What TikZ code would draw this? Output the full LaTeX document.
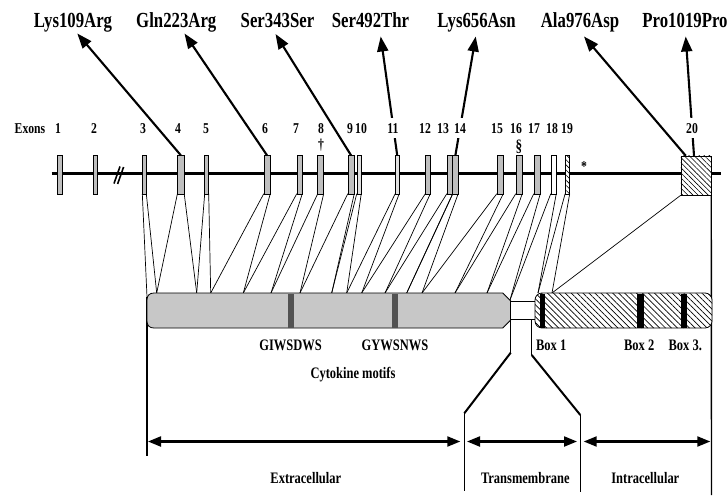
\documentclass[tikz,border=0pt]{standalone}
\usepackage{fontspec}
\newfontfamily\labfam{Liberation Serif}[FakeStretch=0.78]
\usetikzlibrary{arrows.meta,patterns.meta}
\begin{document}
\begin{tikzpicture}[x=1pt,y=-1pt,
  exon/.style={draw=black,line width=0.5pt,fill=black!25,rectangle,inner sep=0pt,minimum height=38pt},
  paleexon/.style={exon,fill=black!12},
  whiteexon/.style={exon,fill=white},
  hatchexon/.style={draw=black,line width=0.5pt,rectangle,inner sep=0pt,minimum height=38pt,
     pattern={Lines[angle=-45,distance=3.6pt,line width=0.6pt]},pattern color=black},
  conn/.style={line width=0.7pt},
  vline/.style={line width=1.4pt},
  tmline/.style={line width=2pt},
  mut/.style={line width=2.1pt,-{Triangle[length=15pt,width=11pt]}},
  dimarrow/.style={line width=2.1pt,{Triangle[length=13pt,width=10pt]}-{Triangle[length=13pt,width=10pt]}},
  toplab/.style={font=\labfam\bfseries\fontsize{21.5}{21.5}\selectfont,anchor=base,inner sep=0pt},
  exlab/.style={font=\labfam\bfseries\fontsize{15}{15}\selectfont,anchor=base,fill=white,inner xsep=2pt,inner ysep=5pt},
  lowlab/.style={font=\labfam\bfseries\fontsize{16}{16}\selectfont,anchor=base,inner sep=0pt},
  symb/.style={font=\labfam\bfseries\fontsize{15}{15}\selectfont,inner sep=0pt}
]
\useasboundingbox (0,0) rectangle (727,500);

% ---------- exons ----------
\node[exon,minimum width=4pt]   (e1)  at (59.7,174.5) {};
\node[exon,minimum width=3.5pt] (e2)  at (95.5,174.5) {};
\node[exon,minimum width=3.5pt] (e3)  at (144.3,174.5) {};
\node[exon,minimum width=6.3pt] (e4)  at (180.8,174.5) {};
\node[exon,minimum width=3.5pt] (e5)  at (206.7,174.5) {};
\node[exon,minimum width=6pt]   (e6)  at (267,174.5) {};
\node[exon,minimum width=5pt]   (e7)  at (299.5,174.5) {};
\node[exon,minimum width=5.5pt] (e8)  at (320.7,174.5) {};
\node[exon,minimum width=6pt]   (e9)  at (351,174.5) {};
\node[paleexon,minimum width=4pt]   (e10) at (359,174.5) {};
\node[paleexon,minimum width=3.5pt] (e11) at (397.2,174.5) {};
\node[exon,minimum width=4.5pt] (e12) at (427.8,174.5) {};
\node[exon,minimum width=5.5pt] (e13) at (449.8,174.5) {};
\node[exon,minimum width=5pt]   (e14) at (455.4,174.5) {};
\node[exon,minimum width=6pt]   (e15) at (500,174.5) {};
\node[exon,minimum width=6pt]   (e16) at (519,174.5) {};
\node[exon,minimum width=6pt]   (e17) at (537,174.5) {};
\node[whiteexon,minimum width=5pt] (e18) at (553.5,174.5) {};
\node[hatchexon,minimum width=4pt] (e19) at (567.4,174.5) {};
\node[hatchexon,minimum width=30pt,minimum height=39pt] (e20) at (696,175.5) {};

% ---------- points on the protein bar ----------
\coordinate (p0)  at (147,297);
\coordinate (p0b) at (147,456);
\coordinate (p1)  at (156.7,293);
\coordinate (p2)  at (196.7,293);
\coordinate (p3)  at (210.7,293);
\coordinate (p4)  at (243.3,293);
\coordinate (p5)  at (271,293);
\coordinate (p6)  at (300,293);
\coordinate (p7)  at (331.7,293);
\coordinate (p8)  at (346.7,293);
\coordinate (p9)  at (361.7,293);
\coordinate (p10) at (385,293);
\coordinate (p11) at (406.7,293);
\coordinate (p12) at (422,293);
\coordinate (p13) at (455,293);
\coordinate (p14) at (487,293);
\coordinate (p15) at (510,300);
\coordinate (p16) at (538,293);
\coordinate (p17) at (552,293);
\coordinate (p18) at (711.5,495);

% ---------- exon-to-protein connectors ----------
\draw[conn] (e3.south west) -- (p0);
\draw[conn] (e3.south east) -- (p1);
\draw[conn] (e4.south west) -- (p1) (e4.south east) -- (p2);
\draw[conn] (e5.south west) -- (p2) (e5.south east) -- (p3);
\draw[conn] (e6.south west) -- (p3) (e6.south east) -- (p4);
\draw[conn] (e7.south west) -- (p4) (e7.south east) -- (p5);
\draw[conn] (e8.south west) -- (p5) (e8.south east) -- (p6);
\draw[conn] (e9.south west) -- (p6) (e9.south east) -- (p7);
\draw[conn] (e10.south west) -- (p7) (e10.south east) -- (p8);
\draw[conn] (e11.south west) -- (p8) (e11.south east) -- (p9);
\draw[conn] (e12.south west) -- (p9) (e12.south east) -- (p10);
\draw[conn] (e13.south west) -- (p10) (e13.south east) -- (p11);
\draw[conn] (e14.south west) -- (p11) (e14.south east) -- (p12);
\draw[conn] (e15.south west) -- (p12) (e15.south east) -- (p13);
\draw[conn] (e16.south west) -- (p13) (e16.south east) -- (p14);
\draw[conn] (e17.south west) -- (p14) (e17.south east) -- (p15);
\draw[conn] (e18.south west) -- (p15) (e18.south east) -- (p16);
\draw[conn] (e19.south west) -- (p16) (e19.south east) -- (p17);
\draw[conn] (e20.south west) -- (p17);
\draw[vline] (e20.south east) -- (p18);
\draw[vline] (p0) -- (p0b);

% ---------- transmembrane guide lines ----------
\coordinate (tl1) at (510.7,320);
\coordinate (tl2) at (510.7,352.7);
\coordinate (tl3) at (464.3,413.3);
\coordinate (tl4) at (464.3,491);
\coordinate (tr1) at (531.7,320);
\coordinate (tr2) at (531.7,355);
\coordinate (tr3) at (580.3,415);
\coordinate (tr4) at (580.3,492);
\draw[vline] (tl1) -- (tl2);
\draw[tmline] (tl2) -- (tl3);
\draw[vline] (tl3) -- (tl4);
\draw[vline] (tr1) -- (tr2);
\draw[tmline] (tr2) -- (tr3);
\draw[vline] (tr3) -- (tr4);

% ---------- protein bar: extracellular part ----------
\draw[line width=0.8pt,fill=black!22]
  (154,293) -- (502.7,293) -- (510.7,301) -- (510.7,320) -- (502.7,328) -- (154,328)
  .. controls (149.5,328) and (147,325.5) .. (147,321) -- (147,300)
  .. controls (147,295.5) and (149.5,293) .. (154,293) -- cycle;
\fill[black!68] (288,293.5) rectangle (294,327.5);
\fill[black!68] (392,293.5) rectangle (398,327.5);
% transmembrane
\draw[line width=0.8pt,fill=white] (510.7,301) rectangle (535,319.5);
% intracellular part
\fill[white,rounded corners=7pt] (535,293) rectangle (712,328);
\fill[pattern={Lines[angle=-45,distance=4.2pt,line width=0.7pt]},pattern color=black,rounded corners=7pt]
  (535,293) rectangle (712,328);
\fill[black] (539.5,293.5) rectangle (545,327.5);
\fill[black] (636.7,293.5) rectangle (644.3,327.5);
\fill[black] (681,293.5) rectangle (686.7,327.5);
\draw[line width=0.8pt,rounded corners=7pt] (535,293) rectangle (712,328);

% ---------- gene line ----------
\coordinate (g1) at (51.7,173.5);
\coordinate (g2) at (720.7,173.5);
\draw[line width=3.2pt] (g1) -- (g2);
\draw[line width=1.6pt] (114,183.5) -- (120,166.5) (117.6,184) -- (123.6,167);

% redraw exons on top of gene line
\foreach \n in {e1,e2,e3,e4,e5,e6,e7,e8,e9,e12,e13,e14,e15,e16,e17}{
  \draw[line width=0.5pt,fill=black!25] (\n.north west) rectangle (\n.south east);}
\foreach \n in {e10,e11}{
  \draw[line width=0.5pt,fill=black!12] (\n.north west) rectangle (\n.south east);}
\draw[line width=0.5pt,fill=white] (e18.north west) rectangle (e18.south east);
\foreach \n in {e19,e20}{
  \fill[white] (\n.north west) rectangle (\n.south east);
  \draw[line width=0.5pt,pattern={Lines[angle=-45,distance=3.6pt,line width=0.6pt]},pattern color=black]
    (\n.north west) rectangle (\n.south east);}

% ---------- mutation labels and arrows ----------
\node[toplab] (m1) at (73,27.5) {Lys109Arg};
\node[toplab] (m2) at (176.3,27.5) {Gln223Arg};
\node[toplab] (m3) at (277.5,27.5) {Ser343Ser};
\node[toplab] (m4) at (370.5,27.5) {Ser492Thr};
\node[toplab] (m5) at (476.5,27.5) {Lys656Asn};
\node[toplab] (m6) at (580,27.5) {Ala976Asp};
\node[toplab] (m7) at (685,27.5) {Pro1019Pro};
\coordinate (t1) at (77.3,33.5);
\coordinate (t2) at (184.5,33.5);
\coordinate (t3) at (275.5,34);
\coordinate (t4) at (380.7,36.5);
\coordinate (t5) at (475.7,36.5);
\coordinate (t6) at (584,36.5);
\coordinate (t7) at (685.7,36.5);
\draw[mut] (e4.north) -- (t1);
\draw[mut] (e6.north) -- (t2);
\draw[mut] (e9.north) -- (t3);
\draw[mut] (e11.north) -- (t4);
\draw[mut] (e14.north) -- (t5);
\draw[mut] ([xshift=5pt]e20.north west) -- (t6);
\draw[mut] ([xshift=-2pt]e20.north) -- (t7);

% ---------- exon numbers ----------
\node[exlab] (lex) at (30,133.3) {Exons};
\node[exlab] (l1)  at (58,133.3) {1};
\node[exlab] (l2)  at (94,133.3) {2};
\node[exlab] (l3)  at (143,133.3) {3};
\node[exlab] (l4)  at (178,133.3) {4};
\node[exlab] (l5)  at (206,133.3) {5};
\node[exlab] (l6)  at (265,133.3) {6};
\node[exlab] (l7)  at (296,133.3) {7};
\node[exlab] (l8)  at (321,133.3) {8};
\node[exlab] (l9)  at (350,133.3) {9};
\node[exlab] (l10) at (361,133.3) {10};
\node[exlab] (l11) at (393,133.3) {11};
\node[exlab] (l12) at (425,133.3) {12};
\node[exlab] (l13) at (443,133.3) {13};
\node[exlab] (l14) at (460,133.3) {14};
\node[exlab] (l15) at (497,133.3) {15};
\node[exlab] (l16) at (516,133.3) {16};
\node[exlab] (l17) at (534,133.3) {17};
\node[exlab] (l18) at (552,133.3) {18};
\node[exlab] (l19) at (567,133.3) {19};
\node[exlab] (l20) at (692,133.3) {20};
\node[symb] (dag) at (321,145) {†};
\node[symb,font=\labfam\bfseries\fontsize{17}{17}\selectfont] (sec) at (519,146.5) {§};
\node[symb] (ast) at (584,166.5) {*};

% ---------- protein labels ----------
\node[lowlab] (mo1) at (290.5,350) {GIWSDWS};
\node[lowlab] (mo2) at (395,350) {GYWSNWS};
\node[lowlab] (cyt) at (353,378) {Cytokine motifs};
\node[lowlab] (b1) at (551.2,350.5) {Box 1};
\node[lowlab] (b2) at (639.2,350.5) {Box 2};
\node[lowlab] (b3) at (685.3,350.5) {Box 3.};

% ---------- domain arrows ----------
\coordinate (x1) at (148,441.5);
\coordinate (x2) at (460.3,441.5);
\coordinate (y1) at (467,441.5);
\coordinate (y2) at (577,441.5);
\coordinate (z1) at (583.7,441.5);
\coordinate (z2) at (710.3,441.5);
\draw[dimarrow] (x1) -- (x2);
\draw[dimarrow] (y1) -- (y2);
\draw[dimarrow] (z1) -- (z2);
\node[lowlab] (ext) at (305.8,483.5) {Extracellular};
\node[lowlab] (tm)  at (525.3,483.5) {Transmembrane};
\node[lowlab] (int) at (645.3,483.5) {Intracellular};
\end{tikzpicture}
\end{document}
